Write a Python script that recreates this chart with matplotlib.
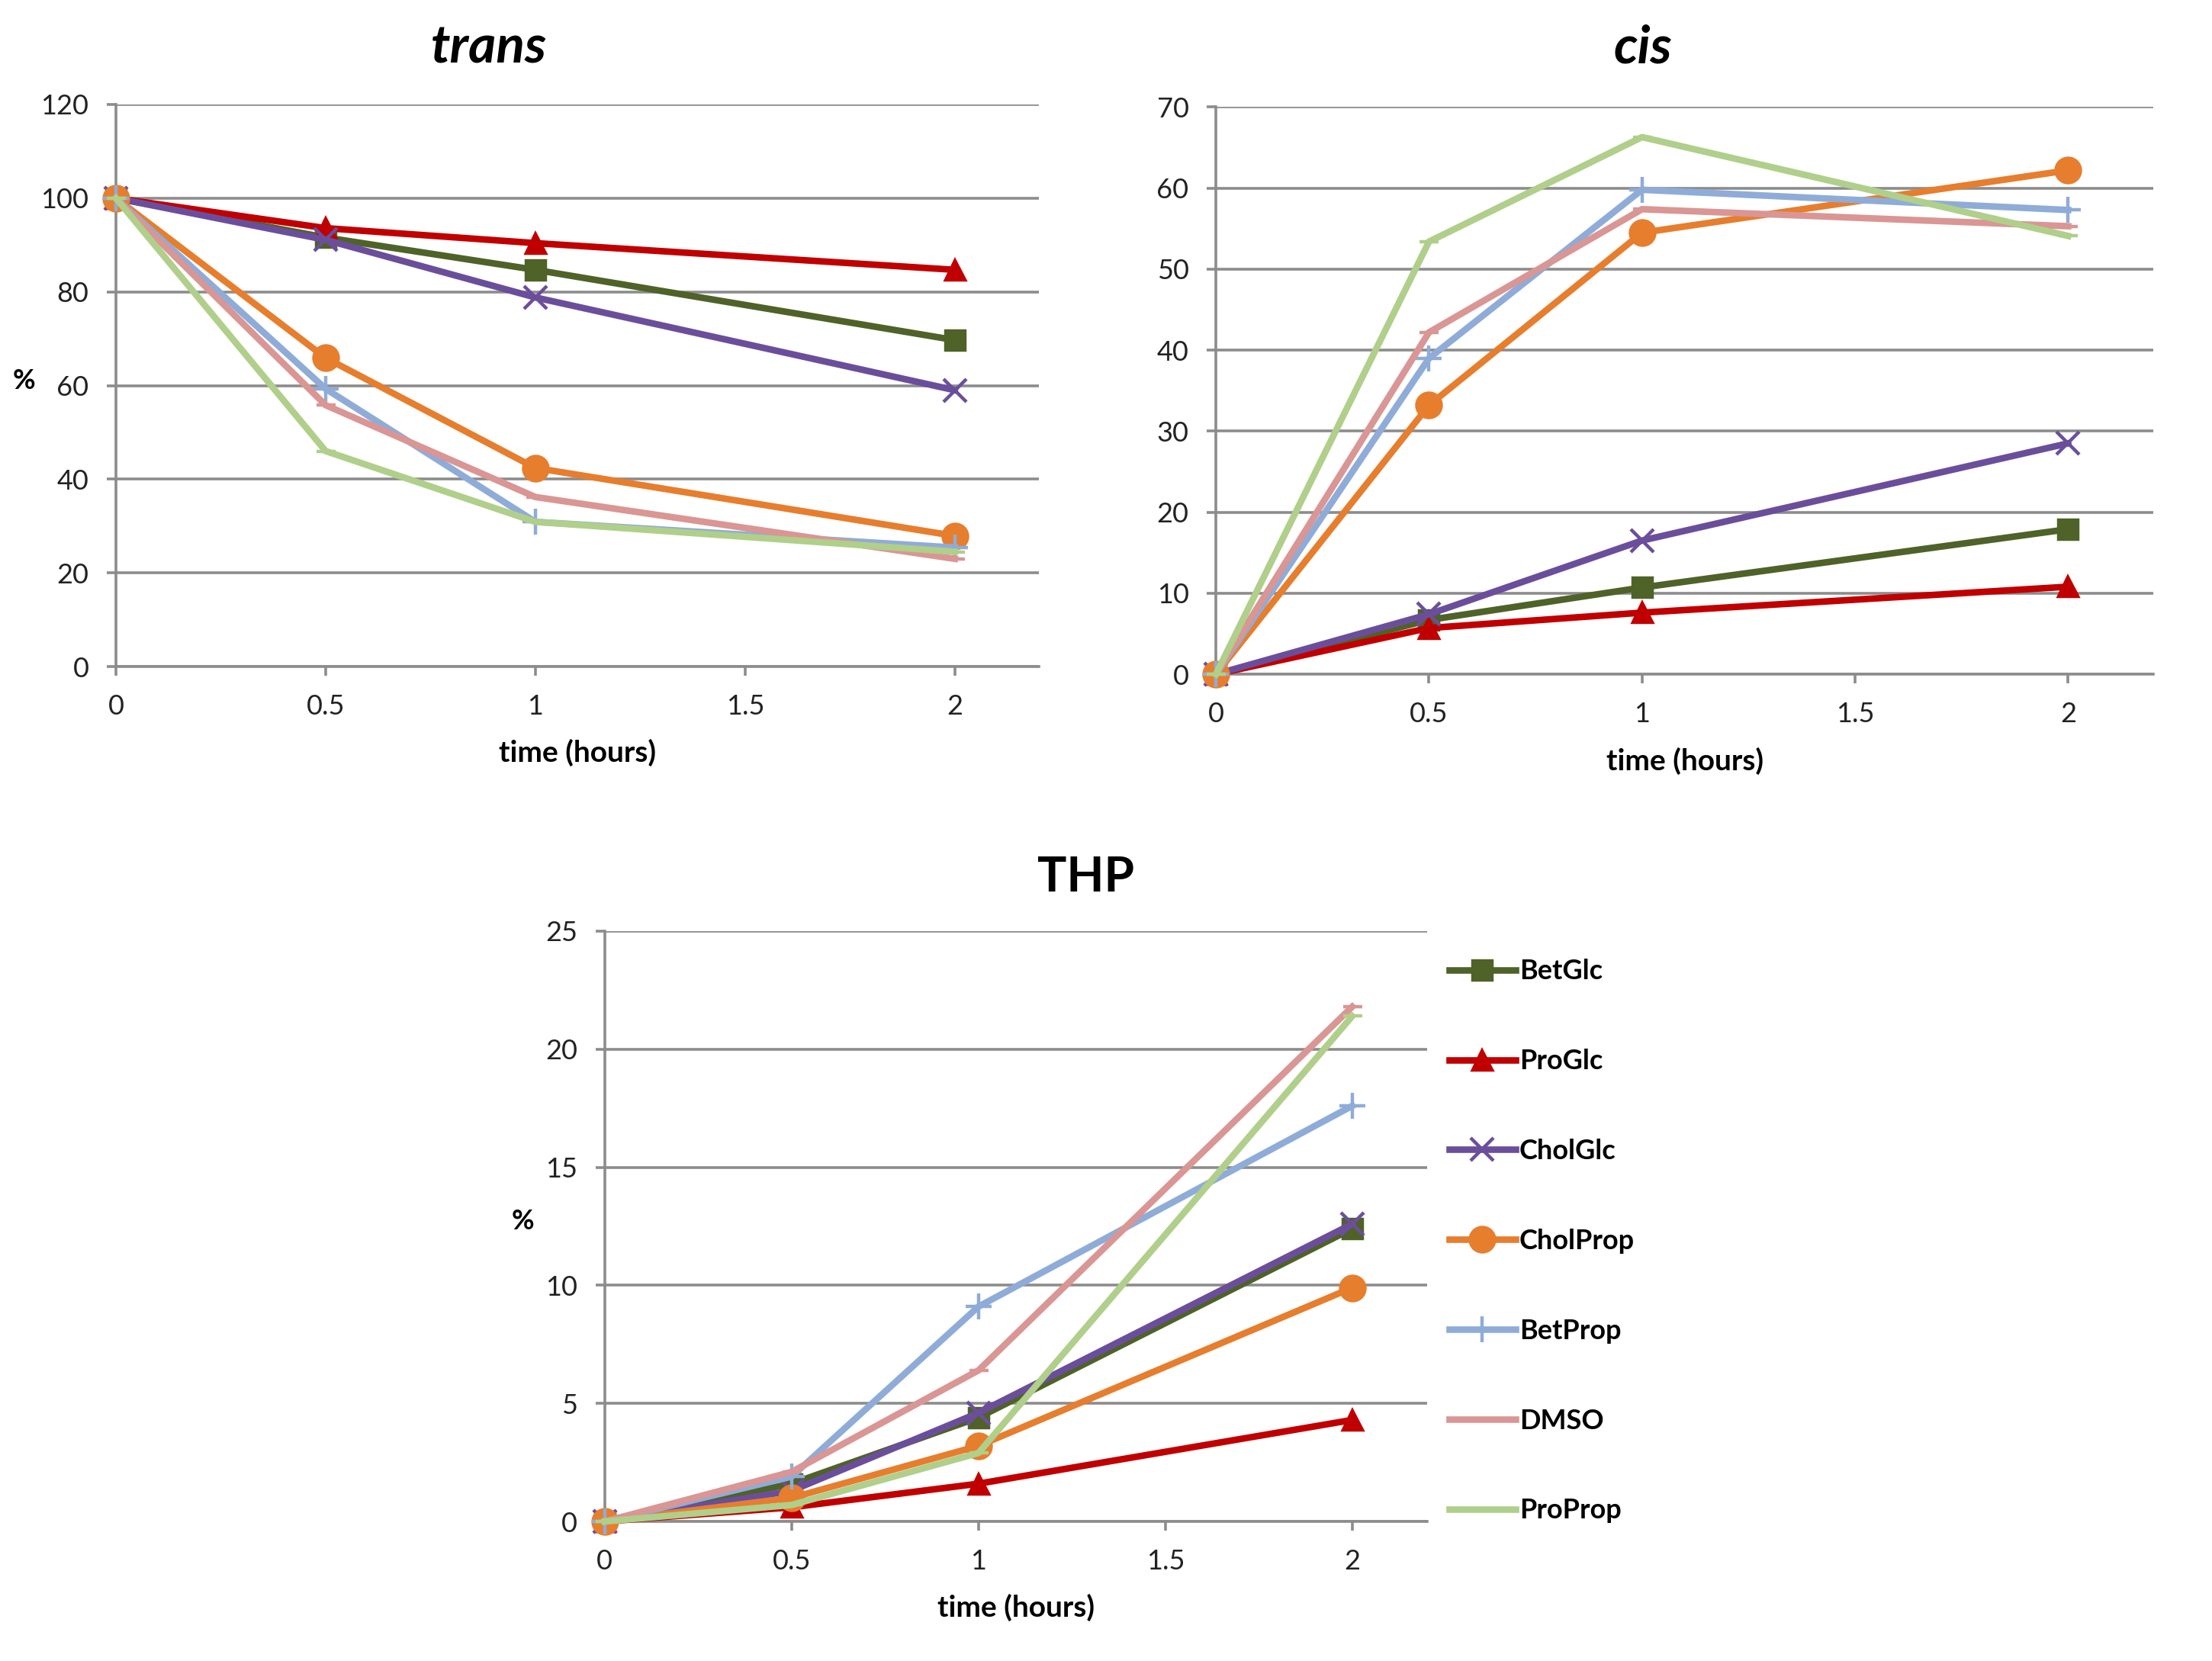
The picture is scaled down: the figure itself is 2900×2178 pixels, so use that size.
import matplotlib
matplotlib.use("Agg")
import matplotlib.pyplot as plt

plt.rcParams['font.family'] = ['Lato', 'DejaVu Sans']

# time points (hours)
hours = [0, 0.5, 1, 2]

series_names = ["BetGlc", "ProGlc", "CholGlc", "CholProp", "BetProp", "DMSO", "ProProp"]

# trans isomer remaining (%)
trans_BetGlc = [100, 91.6, 84.7, 69.7]
trans_ProGlc = [100, 93.6, 90.4, 84.7]
trans_CholGlc = [100, 91.1, 78.8, 59.0]
trans_CholProp = [100, 65.9, 42.4, 27.9]
trans_BetProp = [100, 59.3, 30.9, 25.4]
trans_DMSO = [100, 55.8, 36.2, 23.0]
trans_ProProp = [100, 46.0, 30.9, 24.5]

# cis isomer (%)
cis_BetGlc = [0, 6.7, 10.7, 17.9]
cis_ProGlc = [0, 5.7, 7.6, 10.8]
cis_CholGlc = [0, 7.4, 16.5, 28.5]
cis_CholProp = [0, 33.2, 54.5, 62.2]
cis_BetProp = [0, 39.0, 59.8, 57.3]
cis_DMSO = [0, 42.2, 57.4, 55.3]
cis_ProProp = [0, 53.4, 66.3, 54.1]

# THP (%)
thp_BetGlc = [0, 1.6, 4.4, 12.4]
thp_ProGlc = [0, 0.6, 1.6, 4.3]
thp_CholGlc = [0, 1.3, 4.6, 12.6]
thp_CholProp = [0, 1.0, 3.2, 9.9]
thp_BetProp = [0, 1.9, 9.1, 17.6]
thp_DMSO = [0, 2.1, 6.4, 21.8]
thp_ProProp = [0, 0.7, 2.9, 21.4]

colors = ["#4F6228", "#C00000", "#6B4E9B", "#E67E2E", "#8FACD8", "#D99694", "#B0CF8A"]
markers = ["s", "^", "x", "o", "+", "_", "_"]
msizes = [9, 9, 11, 11.5, 12, 9, 9]

GRID = "#8c8c8c"


def style_axes(ax, ymax, ystep, xlab_y, ylabel):
	ax.set_xlim(0, 2.2)
	ax.set_ylim(0, ymax)
	ax.set_xticks([0, 0.5, 1, 1.5, 2])
	ax.set_xticklabels(["0", "0.5", "1", "1.5", "2"])
	ax.set_yticks(range(0, ymax + 1, ystep))
	ax.yaxis.grid(True, color=GRID, linewidth=1.3)
	ax.set_axisbelow(True)
	for s in ["top", "right"]:
		ax.spines[s].set_visible(False)
	for s in ["left", "bottom"]:
		ax.spines[s].set_color(GRID)
		ax.spines[s].set_linewidth(1.3)
	ax.tick_params(axis="both", colors=GRID, labelcolor="#222222", labelsize=13,
		length=4.3, width=1.3, pad=8.5)
	ax.set_xlabel("time (hours)", fontsize=14, fontweight="bold", va="center")
	ax.xaxis.set_label_coords(0.5, xlab_y)
	if ylabel:
		ax.set_ylabel("%", fontsize=13, fontweight="bold", rotation=0,
			va="center", ha="center")
		ax.yaxis.set_label_coords(-0.1, 0.508)


def draw(ax, data):
	for i, ys in enumerate(data):
		ax.plot(hours, ys, color=colors[i], linewidth=3.1, marker=markers[i],
			markersize=msizes[i], markeredgewidth=1.6, label=series_names[i],
			clip_on=False, zorder=3 + i)


fig = plt.figure(figsize=(14.5, 10.89), dpi=200)

ax1 = fig.add_axes([0.0524, 0.5987, 0.4172, 0.3384])
draw(ax1, [trans_BetGlc, trans_ProGlc, trans_CholGlc, trans_CholProp,
	trans_BetProp, trans_DMSO, trans_ProProp])
style_axes(ax1, 120, 20, -0.153, True)

ax2 = fig.add_axes([0.5497, 0.5941, 0.4238, 0.3414])
draw(ax2, [cis_BetGlc, cis_ProGlc, cis_CholGlc, cis_CholProp,
	cis_BetProp, cis_DMSO, cis_ProProp])
style_axes(ax2, 70, 10, -0.153, False)

ax3 = fig.add_axes([0.2734, 0.0840, 0.3717, 0.3554])
draw(ax3, [thp_BetGlc, thp_ProGlc, thp_CholGlc, thp_CholProp,
	thp_BetProp, thp_DMSO, thp_ProProp])
style_axes(ax3, 25, 5, -0.146, True)

# panel titles (not centred over the plot area in the original)
fig.text(0.2210, 0.9619, "trans", fontsize=25, fontweight="bold", fontstyle="italic",
	ha="center", va="baseline")
fig.text(0.7428, 0.9619, "cis", fontsize=25, fontweight="bold", fontstyle="italic",
	ha="center", va="baseline")
fig.text(0.4910, 0.4633, "THP", fontsize=23, fontweight="bold",
	ha="center", va="baseline")

ax3.legend(loc="center left", bbox_to_anchor=(1.027, 0.475), frameon=False,
	prop={"size": 13, "weight": "bold"}, labelspacing=2.35,
	handlelength=2.4, handletextpad=0.15, borderaxespad=0, borderpad=0)

fig.savefig("out.png", dpi=200)
